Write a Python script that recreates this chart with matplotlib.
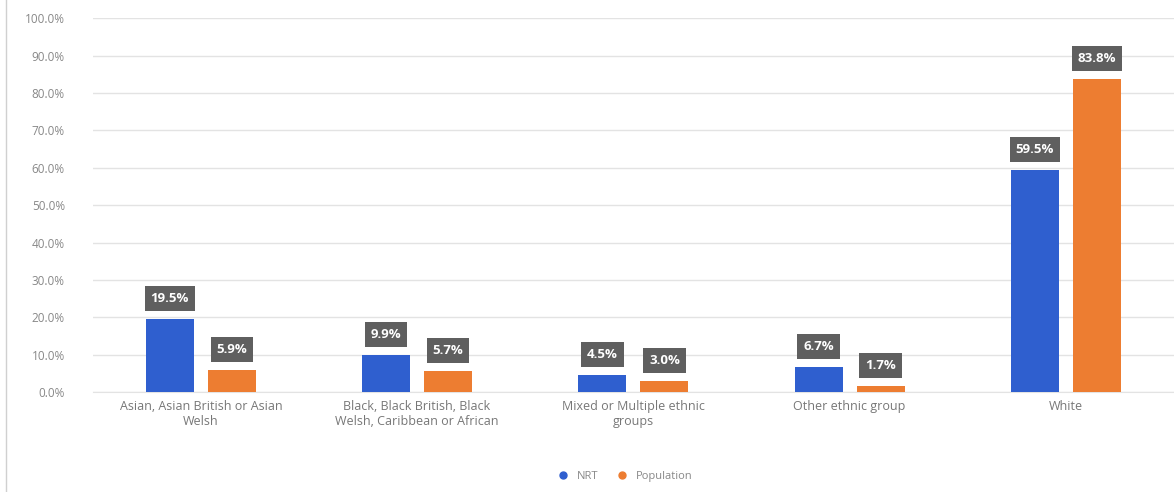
import matplotlib.pyplot as plt
import numpy as np

categories = ["Asian, Asian British or Asian\nWelsh",
              "Black, Black British, Black\nWelsh, Caribbean or African",
              "Mixed or Multiple ethnic\ngroups",
              "Other ethnic group",
              "White"]
nrt = [19.5, 9.9, 4.5, 6.7, 59.5]
population = [5.9, 5.7, 3.0, 1.7, 83.8]
series_names = ["NRT", "Population"]
colors = ["#2f5fcf", "#ed7d31"]

plt.rcParams['font.family'] = ['Open Sans', 'DejaVu Sans']

fig = plt.figure(figsize=(11.74, 4.92), dpi=100)
ax = fig.add_axes([0.079, 0.203, 0.921, 0.76])

x = np.arange(len(categories))
w = 0.222
gap = 0.065
for vals, off, col in [(nrt, -(w + gap) / 2, colors[0]), (population, (w + gap) / 2, colors[1])]:
    ax.bar(x + off, vals, width=w, color=col, zorder=3)
    for xi, v in zip(x + off, vals):
        ax.annotate(f"{v:.1f}%", (xi, v), xytext=(0, 10), textcoords="offset points",
                    ha="center", va="bottom", color="white", fontsize=9.5, fontweight="bold",
                    bbox=dict(boxstyle="square,pad=0.45", fc="#5f5f5f", ec="none"), zorder=4)

ax.set_xlim(-0.5, len(categories) - 0.5)
ax.set_ylim(0, 100)
ax.set_yticks(np.arange(0, 101, 10))
ax.set_yticklabels([f"{t:.1f}%" for t in np.arange(0, 101, 10)])
ax.yaxis.grid(True, color="#e3e3e3", linewidth=1, zorder=0)
ax.set_xticks(x)
ax.set_xticklabels(categories, fontsize=9, color="#777777")
ax.tick_params(axis="y", labelsize=8.5, labelcolor="#888888", length=0, pad=20)
ax.tick_params(axis="x", length=0, pad=6)
for s in ["top", "right", "left"]:
    ax.spines[s].set_visible(False)
ax.spines["bottom"].set_color("#e3e3e3")

handles = [plt.Line2D([], [], marker="o", linestyle="none", color=c, markersize=5) for c in colors]
fig.legend(handles, series_names, loc="lower center", bbox_to_anchor=(0.53, 0.0), ncol=2,
           frameon=False, fontsize=8, labelcolor="#888888", handletextpad=0.2, columnspacing=1.2)

fig.add_artist(plt.Line2D([0.005, 0.005], [0.0, 1.0], color="#d0d0d0", linewidth=1))

fig.savefig("out.png", dpi=100)
